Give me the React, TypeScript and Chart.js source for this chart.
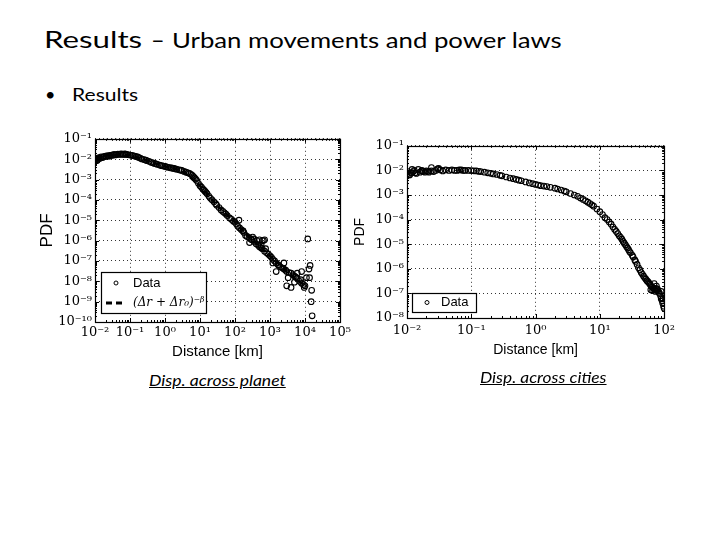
import React, { useEffect, useRef } from "react";
import { Chart, registerables } from "chart.js";
Chart.register(...registerables);

// ---------- data: displacement across planet ----------
const planetDist = [
  0.010, 0.0105, 0.011, 0.0115, 0.012, 0.013, 0.014, 0.015, 0.016, 0.017, 0.018, 0.02, 0.021, 0.023, 0.025, 0.026, 0.028,
  0.03, 0.032, 0.035, 0.038, 0.04, 0.045, 0.05, 0.055, 0.06, 0.065, 0.07, 0.075, 0.08, 0.09, 0.1, 0.11, 0.12, 0.135,
  0.15, 0.165, 0.18, 0.2, 0.22, 0.25, 0.28, 0.3, 0.35, 0.4, 0.45, 0.5, 0.55, 0.6, 0.7, 0.8, 0.9,
  1.0, 1.1, 1.2, 1.35, 1.5, 1.65, 1.8, 2.0, 2.2, 2.5, 2.8, 3.0, 3.5, 4, 4.5, 5, 5.5, 6, 6.5, 7, 7.5, 8, 9,
  10, 11, 12, 13, 14, 15, 16, 18, 20, 22, 25, 28, 30, 35, 40, 45, 50, 55, 60, 70, 80, 90,
  100, 110, 120, 135, 150, 165, 180, 200, 220, 250, 280, 300, 350, 400, 450, 500, 550, 600, 700, 800, 900,
  1000, 1100, 1200, 1350, 1500, 1700, 2000, 2300, 2500, 2800, 3000, 3500, 4000, 4500, 5000, 5500, 6000, 7000, 8000, 9000, 10000,
  130, 170, 260, 320, 350, 420, 500, 560, 600, 650, 700, 750, 1200, 1500, 1800, 2500, 3000, 3300, 4000, 5000, 6000, 7500, 8000,
  9500, 11000, 12000, 13000, 13500, 14000, 15000, 15500, 16000,
];
const planetPdf = [
  8.0e-3, 9.0e-3, 1.1e-2, 8.5e-3, 9.5e-3, 1.2e-2, 1.1e-2, 1.3e-2, 1.2e-2, 1.25e-2, 1.35e-2, 1.4e-2, 1.35e-2, 1.5e-2, 1.4e-2, 1.45e-2, 1.55e-2,
  1.6e-2, 1.55e-2, 1.7e-2, 1.6e-2, 1.65e-2, 1.75e-2, 1.7e-2, 1.8e-2, 1.75e-2, 1.7e-2, 1.8e-2, 1.75e-2, 1.7e-2, 1.65e-2, 1.6e-2, 1.55e-2, 1.5e-2, 1.42e-2,
  1.35e-2, 1.28e-2, 1.2e-2, 1.1e-2, 1.02e-2, 9.5e-3, 9e-3, 8.5e-3, 7.8e-3, 7.0e-3, 6.6e-3, 6.2e-3, 5.9e-3, 5.6e-3, 5.1e-3, 4.8e-3, 4.6e-3,
  4.4e-3, 4.2e-3, 4.0e-3, 3.85e-3, 3.7e-3, 3.6e-3, 3.5e-3, 3.3e-3, 3.2e-3, 3.0e-3, 2.9e-3, 2.8e-3, 2.5e-3, 2.3e-3, 2.15e-3, 2.0e-3, 1.8e-3, 1.6e-3, 1.4e-3, 1.2e-3, 1.05e-3, 9e-4, 6.5e-4,
  5.0e-4, 4.2e-4, 3.5e-4, 3.0e-4, 2.6e-4, 2.3e-4, 2.0e-4, 1.5e-4, 1.2e-4, 1.0e-4, 8e-5, 6.5e-5, 5.5e-5, 4.2e-5, 3.2e-5, 2.7e-5, 2.3e-5, 2.0e-5, 1.7e-5, 1.3e-5, 1.1e-5, 9e-6,
  8e-6, 6.5e-6, 5e-6, 4.2e-6, 3.5e-6, 3e-6, 2.5e-6, 1.8e-6, 1.6e-6, 1.4e-6, 1.2e-6, 1.1e-6, 9e-7, 7e-7, 6e-7, 5e-7, 4.5e-7, 4e-7, 3e-7, 2.5e-7, 2.1e-7,
  1.8e-7, 1.5e-7, 1.2e-7, 1.0e-7, 8e-8, 6.5e-8, 5e-8, 4.5e-8, 4e-8, 3.5e-8, 3e-8, 2.7e-8, 2.5e-8, 2.1e-8, 1.8e-8, 1.6e-8, 1.4e-8, 1.0e-8, 8e-9, 7e-9, 6e-9,
  1.0e-5, 3.0e-6, 8e-7, 1.5e-6, 1.2e-6, 1.0e-6, 1.1e-6, 6e-7, 1.0e-6, 1.0e-6, 1.1e-6, 4e-7, 8e-8, 3e-8, 6e-8, 8e-8, 6e-9, 1.5e-8, 5e-9, 9e-9, 2.5e-8, 1.2e-8, 3e-8,
  5e-9, 1.5e-8, 1.2e-6, 4e-8, 1.5e-8, 6e-8, 1e-9, 3.6e-9, 2e-10,
];
const planetFitDist = [0.01, 0.03, 0.1, 0.3, 1, 3, 10, 30, 100, 300, 1000, 3000, 10000];
const planetFitPdf = [1.2e-2, 1.6e-2, 1.6e-2, 8.5e-3, 4.4e-3, 2.8e-3, 5e-4, 5.5e-5, 8e-6, 1.1e-6, 1.8e-7, 3e-8, 6e-9];

// ---------- data: displacement across cities ----------
const citiesDist = [
  0.010, 0.0103, 0.0106, 0.011, 0.0115, 0.012, 0.0125, 0.013, 0.0135, 0.014, 0.015, 0.016, 0.017, 0.018, 0.019, 0.02, 0.021,
  0.022, 0.024, 0.026, 0.028, 0.03, 0.033, 0.036, 0.04, 0.045, 0.05, 0.055, 0.06, 0.065, 0.07, 0.075, 0.08, 0.09,
  0.1, 0.11, 0.12, 0.13, 0.14, 0.16, 0.18, 0.2, 0.22, 0.25, 0.28, 0.3, 0.35, 0.4, 0.45, 0.5, 0.55, 0.6, 0.7, 0.8, 0.9,
  1.0, 1.1, 1.2, 1.35, 1.5, 1.7, 2.0, 2.2, 2.5, 2.8, 3.0, 3.5, 4, 4.5, 5, 5.5, 6, 6.5, 7, 7.5, 8, 9,
  10, 11, 12, 13, 14, 15, 16, 17, 18, 19, 20, 21, 22, 23, 24, 25, 26, 27, 28, 29, 30, 32, 33, 35, 36, 38, 40,
  42, 44, 46, 48, 50, 52, 54, 56, 58, 60, 62, 65, 68, 70, 72, 75, 78, 80, 83, 85, 88, 90, 93, 95, 98, 100,
  0.012, 0.017, 0.024, 0.031, 62, 66, 70, 73, 76, 79, 90, 96,
];
const citiesPdf = [
  7e-3, 9e-3, 6.5e-3, 6.5e-3, 7.8e-3, 8e-3, 9e-3, 1.0e-2, 8e-3, 7.5e-3, 1.1e-2, 8.5e-3, 9.5e-3, 9e-3, 8.5e-3, 9.5e-3, 9e-3,
  8.5e-3, 9.5e-3, 9e-3, 1.0e-2, 1.15e-2, 1.05e-2, 9.5e-3, 1.05e-2, 1.0e-2, 1.05e-2, 1.0e-2, 1.0e-2, 1.05e-2, 1.05e-2, 1.0e-2, 1.0e-2, 1.0e-2,
  9.8e-3, 9.6e-3, 9.5e-3, 9.2e-3, 9e-3, 8.5e-3, 8e-3, 7.6e-3, 7.2e-3, 6.8e-3, 6.3e-3, 6.0e-3, 5.4e-3, 4.9e-3, 4.6e-3, 4.3e-3, 4.0e-3, 3.8e-3, 3.4e-3, 3.1e-3, 2.9e-3,
  2.7e-3, 2.55e-3, 2.4e-3, 2.3e-3, 2.2e-3, 2.05e-3, 1.9e-3, 1.75e-3, 1.6e-3, 1.45e-3, 1.35e-3, 1.15e-3, 1.0e-3, 8.8e-4, 7.5e-4, 6.6e-4, 5.8e-4, 5.1e-4, 4.5e-4, 4.0e-4, 3.5e-4, 2.7e-4,
  2.1e-4, 1.6e-4, 1.2e-4, 1.0e-4, 8e-5, 6.5e-5, 5e-5, 4e-5, 3.3e-5, 2.7e-5, 2.2e-5, 1.9e-5, 1.6e-5, 1.3e-5, 1.1e-5, 9.5e-6, 8e-6, 7e-6, 6e-6, 5e-6, 4.5e-6, 3.5e-6, 3e-6, 2.3e-6, 2e-6, 1.5e-6, 1.1e-6,
  9e-7, 7e-7, 6e-7, 5e-7, 4.3e-7, 3.8e-7, 3.3e-7, 3e-7, 2.7e-7, 2.4e-7, 2.1e-7, 1.8e-7, 1.6e-7, 1.5e-7, 1.4e-7, 1.6e-7, 1.4e-7, 1.3e-7, 1.1e-7, 1e-7, 8e-8, 6e-8, 5e-8, 4e-8, 3e-8, 2.5e-8,
  1.1e-2, 1.0e-2, 1.3e-2, 1.2e-2, 1.4e-7, 1.3e-7, 2.5e-7, 1.2e-7, 2.0e-7, 1.5e-7, 1.2e-7, 6e-8,
];

// ---------- tick labels ----------
const planetXTicks = [1e-2, 1e-1, 1e0, 1e1, 1e2, 1e3, 1e4, 1e5];
const planetXLabels = ["10⁻²", "10⁻¹", "10⁰", "10¹", "10²", "10³", "10⁴", "10⁵"];
const planetYTicks = [1e-10, 1e-9, 1e-8, 1e-7, 1e-6, 1e-5, 1e-4, 1e-3, 1e-2, 1e-1];
const planetYLabels = ["10⁻¹⁰", "10⁻⁹", "10⁻⁸", "10⁻⁷", "10⁻⁶", "10⁻⁵", "10⁻⁴", "10⁻³", "10⁻²", "10⁻¹"];
const citiesXTicks = [1e-2, 1e-1, 1e0, 1e1, 1e2];
const citiesXLabels = ["10⁻²", "10⁻¹", "10⁰", "10¹", "10²"];
const citiesYTicks = [1e-8, 1e-7, 1e-6, 1e-5, 1e-4, 1e-3, 1e-2, 1e-1];
const citiesYLabels = ["10⁻⁸", "10⁻⁷", "10⁻⁶", "10⁻⁵", "10⁻⁴", "10⁻³", "10⁻²", "10⁻¹"];

const frameAndTicks = {
  id: "frameAndTicks",
  afterDatasetsDraw(chart: any) {
    const { ctx, chartArea: a } = chart;
    ctx.save();
    ctx.strokeStyle = "#000";
    ctx.lineWidth = 1;
    const xs = chart.scales.x, ys = chart.scales.y;
    const drawMinor = (scale: any, horiz: boolean) => {
      const lo = Math.floor(Math.log10(scale.min) + 1e-9);
      const hi = Math.ceil(Math.log10(scale.max) - 1e-9);
      for (let k = lo; k <= hi; k++) {
        for (let m = 1; m <= 9; m++) {
          const v = m * Math.pow(10, k);
          if (v < scale.min * 0.999 || v > scale.max * 1.001) continue;
          const p = Math.round(scale.getPixelForValue(v)) + 0.5;
          const len = m === 1 ? 4 : 2;
          ctx.beginPath();
          if (horiz) {
            ctx.moveTo(p, a.bottom); ctx.lineTo(p, a.bottom - len);
            ctx.moveTo(p, a.top); ctx.lineTo(p, a.top + len);
          } else {
            ctx.moveTo(a.left, p); ctx.lineTo(a.left + len, p);
            ctx.moveTo(a.right, p); ctx.lineTo(a.right - len, p);
          }
          ctx.stroke();
        }
      }
    };
    drawMinor(xs, true);
    drawMinor(ys, false);
    ctx.lineWidth = 1.2;
    ctx.strokeRect(Math.round(a.left) + 0.5, Math.round(a.top) + 0.5, Math.round(a.right - a.left), Math.round(a.bottom - a.top));
    ctx.restore();
  },
  afterDraw(chart: any, _args: any, opts: any) {
    const { ctx, chartArea: a } = chart;
    const lg = opts && opts.box;
    if (!lg) return;
    const x0 = a.left + lg.dx, y0 = a.bottom - lg.dy - lg.h;
    ctx.save();
    ctx.fillStyle = "#fff";
    ctx.fillRect(x0, y0, lg.w, lg.h);
    ctx.strokeStyle = "#000";
    ctx.lineWidth = 1.2;
    ctx.strokeRect(x0 + 0.5, y0 + 0.5, lg.w, lg.h);
    const ds = chart.data.datasets;
    ds.forEach((d: any, i: number) => {
      const cy = y0 + lg.first + i * lg.step;
      if (d.showLine) {
        ctx.beginPath();
        ctx.lineWidth = 3;
        ctx.setLineDash([6, 4]);
        ctx.moveTo(x0 + 5, cy); ctx.lineTo(x0 + 25, cy);
        ctx.stroke();
        ctx.setLineDash([]);
        ctx.font = "italic " + lg.mathFont;
      } else {
        ctx.beginPath();
        ctx.lineWidth = 1;
        ctx.arc(x0 + lg.markX, cy, 2, 0, Math.PI * 2);
        ctx.stroke();
        ctx.font = lg.font;
      }
      ctx.fillStyle = "#000";
      ctx.textBaseline = "middle";
      ctx.fillText(d.label, x0 + lg.textX, cy);
    });
    ctx.restore();
  },
};

function makeLogAxis(min: number, max: number, ticks: number[], labels: string[], title: string, horiz: boolean, cfg: any) {
  return {
    type: "logarithmic",
    min,
    max,
    afterBuildTicks: (s: any) => {
      s.ticks = ticks.map((v) => ({ value: v }));
    },
    afterFit: (s: any) => {
      if (horiz) s.height = cfg.size; else s.width = cfg.size;
    },
    grid: { color: "#000", lineWidth: 0.8, drawTicks: false },
    border: { display: false, dash: [1, 3] },
    ticks: {
      autoSkip: false,
      maxRotation: 0,
      padding: cfg.tickPad,
      color: "#000",
      font: { family: "'DejaVu Serif', serif", size: cfg.tickSize },
      callback: (v: any) => {
        const i = ticks.findIndex((t) => Math.abs(Math.log10(t) - Math.log10(v)) < 1e-6);
        return i >= 0 ? labels[i] : "";
      },
    },
    title: {
      display: true,
      text: title,
      color: "#000",
      padding: { top: 2, bottom: 2 },
      font: { family: "'Liberation Sans', Arial, sans-serif", size: cfg.titleSize },
    },
  };
}

function LogChart(props: { build: () => any; left: number; top: number; width: number; height: number }) {
  const ref = useRef<HTMLCanvasElement | null>(null);
  useEffect(() => {
    if (!ref.current) return;
    const chart = new Chart(ref.current, props.build());
    return () => chart.destroy();
  }, []);
  return (
    <canvas
      ref={ref}
      width={props.width}
      height={props.height}
      style={{ position: "absolute", left: props.left, top: props.top, width: props.width, height: props.height }}
    />
  );
}

const dataStyle = {
  pointStyle: "circle",
  pointRadius: 2.8,
  pointBorderWidth: 1.1,
  pointBorderColor: "#000",
  pointBackgroundColor: "rgba(255,255,255,0)",
  showLine: false,
};

const buildPlanet = () => ({
  type: "scatter",
  data: {
    datasets: [
      { label: "Data", data: planetDist.map((x, i) => ({ x, y: planetPdf[i] })), ...dataStyle },
      {
        label: "(Δr + Δr₀)⁻ᵝ",
        data: planetFitDist.map((x, i) => ({ x, y: planetFitPdf[i] })),
        showLine: true,
        borderColor: "#000",
        borderWidth: 2.5,
        borderDash: [6, 4],
        pointRadius: 0,
      },
    ],
  },
  options: {
    animation: false,
    responsive: false,
    devicePixelRatio: 1,
    layout: { padding: { left: 0, right: 15, top: 10, bottom: 0 } },
    plugins: {
      legend: { display: false },
      tooltip: { enabled: false },
      frameAndTicks: {
        box: {
          dx: 6, dy: 9, w: 105, h: 41, first: 11, step: 20, markX: 15, textX: 32,
          font: "13px 'Liberation Sans', Arial, sans-serif",
          mathFont: "12px 'DejaVu Serif', serif",
        },
      },
    },
    scales: {
      x: makeLogAxis(1e-2, 1e5, planetXTicks, planetXLabels, "Distance [km]", true, { size: 41, tickPad: 3, tickSize: 13, titleSize: 15 }),
      y: makeLogAxis(1e-10, 1e-1, planetYTicks, planetYLabels, "PDF", false, { size: 60, tickPad: 3, tickSize: 13, titleSize: 17 }),
    },
  },
  plugins: [frameAndTicks],
});

const buildCities = () => ({
  type: "scatter",
  data: {
    datasets: [{ label: "Data", data: citiesDist.map((x, i) => ({ x, y: citiesPdf[i] })), ...dataStyle }],
  },
  options: {
    animation: false,
    responsive: false,
    devicePixelRatio: 1,
    layout: { padding: { left: 0, right: 12, top: 10, bottom: 0 } },
    plugins: {
      legend: { display: false },
      tooltip: { enabled: false },
      frameAndTicks: {
        box: {
          dx: 5, dy: 6, w: 64, h: 19, first: 9.5, step: 20, markX: 15, textX: 29,
          font: "13px 'Liberation Sans', Arial, sans-serif",
          mathFont: "12px 'DejaVu Serif', serif",
        },
      },
    },
    scales: {
      x: makeLogAxis(1e-2, 1e2, citiesXTicks, citiesXLabels, "Distance [km]", true, { size: 43, tickPad: 5, tickSize: 13, titleSize: 14 }),
      y: makeLogAxis(1e-8, 1e-1, citiesYTicks, citiesYLabels, "PDF", false, { size: 57, tickPad: 3, tickSize: 13, titleSize: 14 }),
    },
  },
  plugins: [frameAndTicks],
});

const slideFont = "Lato, 'Open Sans', sans-serif";

// a horizontally stretched inline piece of text that keeps the line's baseline
function Piece(props: { size: number; sx: number; width: number; italic?: boolean; underline?: boolean; children: any }) {
  return (
    <span style={{ display: "inline-block", width: props.width, fontSize: props.size, verticalAlign: "baseline" }}>
      <span
        style={{
          display: "inline-block",
          fontStyle: props.italic ? "italic" : "normal",
          textDecoration: props.underline ? "underline" : "none",
          transform: `scaleX(${props.sx})`,
          transformOrigin: "left center",
          whiteSpace: "nowrap",
        }}
      >
        {props.children}
      </span>
    </span>
  );
}

function Line(props: { left: number; top: number; children: any }) {
  return (
    <div
      style={{
        position: "absolute",
        left: props.left,
        top: props.top,
        fontFamily: slideFont,
        lineHeight: 1,
        whiteSpace: "nowrap",
        color: "#000",
        fontSize: 10,
      }}
    >
      {props.children}
    </div>
  );
}

export default function App() {
  return (
    <div style={{ position: "absolute", left: 0, top: 0, width: 720, height: 540, background: "#fff", overflow: "hidden" }}>
      <Line left={44} top={28}>
        <Piece size={23.5} sx={1.33} width={107}>Results</Piece>
        <Piece size={23.5} sx={1.0} width={21}>–</Piece>
        <Piece size={21} sx={1.225} width={400}>Urban movements and power laws</Piece>
      </Line>
      <Line left={45} top={85}>
        <Piece size={18} sx={1.0} width={27}>•</Piece>
        <Piece size={18} sx={1.17} width={80}>Results</Piece>
      </Line>
      <LogChart build={buildPlanet} left={35} top={128} width={320} height={235} />
      <LogChart build={buildCities} left={350} top={135} width={330} height={226} />
      <Line left={149} top={373}>
        <Piece size={15} sx={1.17} width={150} italic underline>Disp. across planet</Piece>
      </Line>
      <Line left={480} top={370}>
        <Piece size={15} sx={1.155} width={140} italic underline>Disp. across cities</Piece>
      </Line>
    </div>
  );
}
